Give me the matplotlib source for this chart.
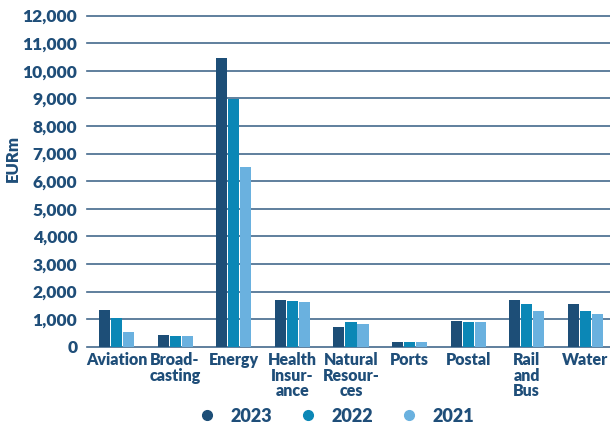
import numpy as np
import matplotlib.pyplot as plt
from matplotlib.lines import Line2D

sectors = ["Aviation", "Broad-\ncasting", "Energy", "Health\nInsur-\nance",
           "Natural\nResour-\nces", "Ports", "Postal", "Rail\nand\nBus", "Water"]
years = ["2023", "2022", "2021"]
v2023 = [1340, 430, 10450, 1710, 720, 180, 930, 1700, 1560]
v2022 = [1030, 390, 8970, 1670, 900, 180, 900, 1530, 1310]
v2021 = [540, 390, 6500, 1630, 830, 180, 900, 1310, 1200]

colors = ["#1d4e77", "#0b87b6", "#6ab1df"]
txt = "#1f4e79"
plt.rcParams["font.family"] = ["Lato", "DejaVu Sans"]
plt.rcParams["font.weight"] = "bold"

fig = plt.figure(figsize=(6.1, 4.24), dpi=100)
ax = fig.add_axes([87/610, 1-346.7/424, 1-87/610, (346.7-15.5)/424])

x = np.arange(len(sectors))
w = 0.19
for off, vals, c in zip([-0.205, 0, 0.205], [v2023, v2022, v2021], colors):
    ax.bar(x + off, vals, width=w, color=c, zorder=3)

ax.set_ylim(0, 12000)
ax.set_xlim(-0.503, 8.42)
ax.set_yticks(np.arange(0, 12001, 1000))
ax.set_yticklabels([f"{v:,}" for v in range(0, 12001, 1000)])
ax.set_xticks(x)
ax.set_xticklabels(sectors, linespacing=0.95)
ax.grid(axis="y", color="#44698c", lw=1.2, zorder=0)
for gl in ax.get_ygridlines():
    gl.set_clip_on(False)
for s in ax.spines.values():
    s.set_visible(False)
ax.tick_params(axis="y", length=0, colors=txt, labelsize=12.5, pad=7)
ax.tick_params(axis="x", length=0, colors=txt, labelsize=11.5, pad=4)
for lab in ax.get_xticklabels() + ax.get_yticklabels():
    lab.set_fontweight("heavy")

fig.text(13/610, 1-158/424, "EURm", rotation=90, ha="center", va="center",
         color=txt, fontsize=12, fontweight="heavy")

handles = [Line2D([], [], marker="o", ls="none", color=c, markersize=7) for c in colors]
fig.legend(handles, years, loc="center", bbox_to_anchor=(337/610, 1-416/424), ncol=3,
           frameon=False, handletextpad=0.9, columnspacing=1.6, handlelength=0.8,
           prop={"size": 13, "weight": "heavy"}, labelcolor=txt)

fig.savefig("out.png", dpi=100)
